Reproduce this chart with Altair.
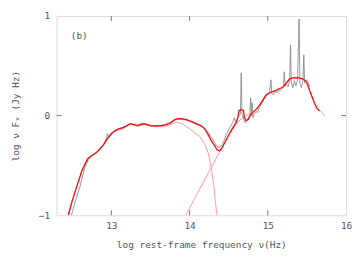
import altair as alt
import pandas as pd

# --- data ---
model_x = [12.45, 12.49, 12.53, 12.58, 12.62, 12.66, 12.70, 12.75, 12.81, 12.86, 12.90, 12.95,
           13.00, 13.05, 13.10, 13.15, 13.20, 13.24, 13.29, 13.34, 13.38, 13.42, 13.46, 13.50,
           13.56, 13.63, 13.70, 13.76, 13.81, 13.85, 13.90, 13.96, 14.02, 14.08, 14.14, 14.19,
           14.23, 14.27, 14.31, 14.35, 14.38, 14.41, 14.45, 14.49, 14.53, 14.57, 14.60, 14.62,
           14.63, 14.66, 14.69, 14.70, 14.72, 14.75, 14.78, 14.82, 14.86, 14.90, 14.94, 14.98,
           15.02, 15.06, 15.10, 15.14, 15.18, 15.21, 15.25, 15.28, 15.32, 15.36, 15.40, 15.44,
           15.48, 15.51, 15.54, 15.57, 15.60, 15.63, 15.66]
model_y = [-1.0, -0.88, -0.78, -0.66, -0.56, -0.49, -0.43, -0.40, -0.37, -0.33, -0.29, -0.23,
           -0.18, -0.15, -0.13, -0.12, -0.10, -0.08, -0.09, -0.10, -0.09, -0.08, -0.09, -0.10,
           -0.105, -0.10, -0.09, -0.07, -0.04, -0.03, -0.03, -0.04, -0.06, -0.08, -0.10, -0.13,
           -0.18, -0.24, -0.29, -0.34, -0.355, -0.33, -0.27, -0.21, -0.15, -0.10, -0.06, -0.01,
           0.05, 0.06, 0.05, -0.02, -0.05, -0.04, 0.01, 0.04, 0.07, 0.11, 0.16, 0.21,
           0.23, 0.24, 0.25, 0.27, 0.28, 0.30, 0.34, 0.37, 0.38, 0.38, 0.38, 0.37,
           0.35, 0.31, 0.24, 0.18, 0.12, 0.07, 0.05]

dust_x = [12.45, 12.53, 12.62, 12.70, 12.81, 12.90, 13.00, 13.10, 13.20, 13.24, 13.29, 13.34,
          13.38, 13.42, 13.48, 13.56, 13.65, 13.74, 13.82, 13.90, 13.96, 14.03, 14.08, 14.13,
          14.19, 14.24, 14.28, 14.31, 14.33, 14.35]
dust_y = [-1.0, -0.78, -0.56, -0.43, -0.37, -0.29, -0.18, -0.13, -0.10, -0.085, -0.095, -0.105,
          -0.095, -0.09, -0.10, -0.11, -0.11, -0.095, -0.066, -0.08, -0.11, -0.15, -0.18, -0.21,
          -0.28, -0.38, -0.54, -0.71, -0.87, -1.0]

disk_x = [13.95, 14.10, 14.25, 14.40, 14.50, 14.58, 14.66, 14.74, 14.82, 14.86, 14.90, 14.94,
          14.98, 15.02, 15.06, 15.10, 15.14, 15.18, 15.21, 15.25, 15.28, 15.32, 15.36, 15.40,
          15.44, 15.48, 15.51, 15.54, 15.57, 15.60, 15.63, 15.66, 15.69, 15.73]
disk_y = [-1.0, -0.78, -0.56, -0.34, -0.20, -0.10, -0.03, 0.01, 0.04, 0.07, 0.11, 0.16,
          0.21, 0.23, 0.24, 0.25, 0.27, 0.28, 0.30, 0.34, 0.37, 0.38, 0.38, 0.38,
          0.37, 0.35, 0.31, 0.24, 0.18, 0.12, 0.07, 0.05, 0.03, 0.0]

obs_x = [12.49, 12.54, 12.60, 12.66, 12.71, 12.76, 12.81, 12.86, 12.90, 12.94, 12.95, 12.97,
         13.01, 13.06, 13.11, 13.15, 13.19, 13.24, 13.29, 13.33, 13.37, 13.41, 13.45, 13.50,
         13.57, 13.64, 13.70, 13.76, 13.81, 13.86, 13.92, 13.98, 14.04, 14.10, 14.15, 14.20,
         14.24, 14.28, 14.32, 14.35, 14.38, 14.41, 14.44, 14.47, 14.50, 14.53, 14.55, 14.57,
         14.59, 14.61, 14.63, 14.65, 14.66, 14.67, 14.69, 14.71, 14.73, 14.75, 14.77, 14.78,
         14.79, 14.80, 14.81, 14.83, 14.85, 14.87, 14.89, 14.92, 14.95, 14.98, 15.00, 15.02,
         15.04, 15.05, 15.07, 15.09, 15.12, 15.14, 15.16, 15.18, 15.20, 15.21, 15.22, 15.24,
         15.26, 15.28, 15.29, 15.30, 15.32, 15.34, 15.36, 15.38, 15.40, 15.41, 15.43, 15.45,
         15.46, 15.47, 15.49, 15.51, 15.53, 15.54]
obs_y = [-1.0, -0.86, -0.71, -0.52, -0.44, -0.40, -0.37, -0.33, -0.30, -0.22, -0.18, -0.22,
         -0.18, -0.15, -0.14, -0.13, -0.11, -0.08, -0.09, -0.10, -0.08, -0.08, -0.09, -0.10,
         -0.10, -0.10, -0.09, -0.07, -0.04, -0.04, -0.04, -0.05, -0.06, -0.08, -0.10, -0.13,
         -0.17, -0.22, -0.27, -0.31, -0.32, -0.30, -0.25, -0.19, -0.14, -0.10, -0.07, -0.02,
         -0.06, -0.03, 0.00, 0.02, 0.43, 0.02, -0.04, -0.07, -0.05, -0.02, 0.00, 0.18,
         0.00, 0.13, -0.02, 0.02, 0.04, 0.03, 0.08, 0.12, 0.16, 0.20, 0.21, 0.22,
         0.36, 0.22, 0.21, 0.24, 0.23, 0.26, 0.25, 0.27, 0.29, 0.44, 0.30, 0.31,
         0.29, 0.35, 0.71, 0.33, 0.28, 0.35, 0.30, 0.36, 0.97, 0.32, 0.28, 0.36,
         0.61, 0.33, 0.36, 0.34, 0.30, 0.31]

x_tick_vals = [13, 14, 15]
y_tick_vals = [0]
x_label_vals = [13, 14, 15, 16]
y_label_vals = [-1, 0, 1]
panel_label = "(b)"

FONT = "DejaVu Sans Mono"
W, H = 292, 201

xs = alt.Scale(domain=[12.3, 16], nice=False, zero=False)
ys = alt.Scale(domain=[-1, 1], nice=False, zero=False)

xaxis = alt.Axis(values=x_label_vals, format="d", ticks=False, domain=False, grid=False,
                 labelFont=FONT, labelFontSize=9.5, labelColor="#555", labelPadding=5,
                 labelOverlap=False,
                 title="log rest-frame frequency \u03bd(Hz)", titleFont=FONT, titleFontSize=9.5,
                 titleColor="#555", titleFontWeight="normal", titlePadding=10,
                 labelFlush=False)
yaxis = alt.Axis(values=y_label_vals, labelExpr="format(datum.value, 'd')",
                 ticks=False, domain=False, grid=False,
                 labelFont=FONT, labelFontSize=9.5, labelColor="#555", labelPadding=7,
                 labelOverlap=False,
                 title="log \u03bd F\u1d65 (Jy Hz)", titleFont=FONT, titleFontSize=9.5,
                 titleColor="#555", titleFontWeight="normal", titlePadding=18,
                 labelFlush=False)

def line(xv, yv, color, width):
    df = pd.DataFrame({"x": xv, "y": yv, "i": range(len(xv))})
    return alt.Chart(df).mark_line(color=color, strokeWidth=width, clip=True).encode(
        x=alt.X("x:Q", scale=xs, axis=xaxis),
        y=alt.Y("y:Q", scale=ys, axis=yaxis),
        order="i:O",
    )

obs = line(obs_x, obs_y, "#808080", 0.8)
dust = line(dust_x, dust_y, "#ff9a9a", 1.0)
disk = line(disk_x, disk_y, "#ff9a9a", 1.0)
model = line(model_x, model_y, "#ee1111", 1.3)

xt = pd.DataFrame({"x": x_tick_vals})
yt = pd.DataFrame({"y": y_tick_vals})
tick_style = dict(color="#777", strokeWidth=1)
tb = alt.Chart(xt).mark_rule(**tick_style).encode(x=alt.X("x:Q", scale=xs), y=alt.value(H), y2=alt.value(H - 5))
tt = alt.Chart(xt).mark_rule(**tick_style).encode(x=alt.X("x:Q", scale=xs), y=alt.value(0), y2=alt.value(5))
tl = alt.Chart(yt).mark_rule(**tick_style).encode(y=alt.Y("y:Q", scale=ys), x=alt.value(0), x2=alt.value(5))
tr = alt.Chart(yt).mark_rule(**tick_style).encode(y=alt.Y("y:Q", scale=ys), x=alt.value(W - 5), x2=alt.value(W))

lab = alt.Chart(pd.DataFrame({"x": [12.59], "y": [0.80], "t": [panel_label]})).mark_text(
    font=FONT, fontSize=9.5, color="#555").encode(
    x=alt.X("x:Q", scale=xs), y=alt.Y("y:Q", scale=ys), text="t:N")

chart = alt.layer(obs, dust, disk, model, tb, tt, tl, tr, lab).properties(
    width=W, height=H,
    autosize=alt.AutoSizeParams(type="none"),
    padding={"left": 49, "top": 7, "right": 7, "bottom": 40},
).configure_view(stroke="#777", strokeWidth=1).configure(background="white")

chart.save("out.html", embed_options={"renderer": "svg", "actions": False})
